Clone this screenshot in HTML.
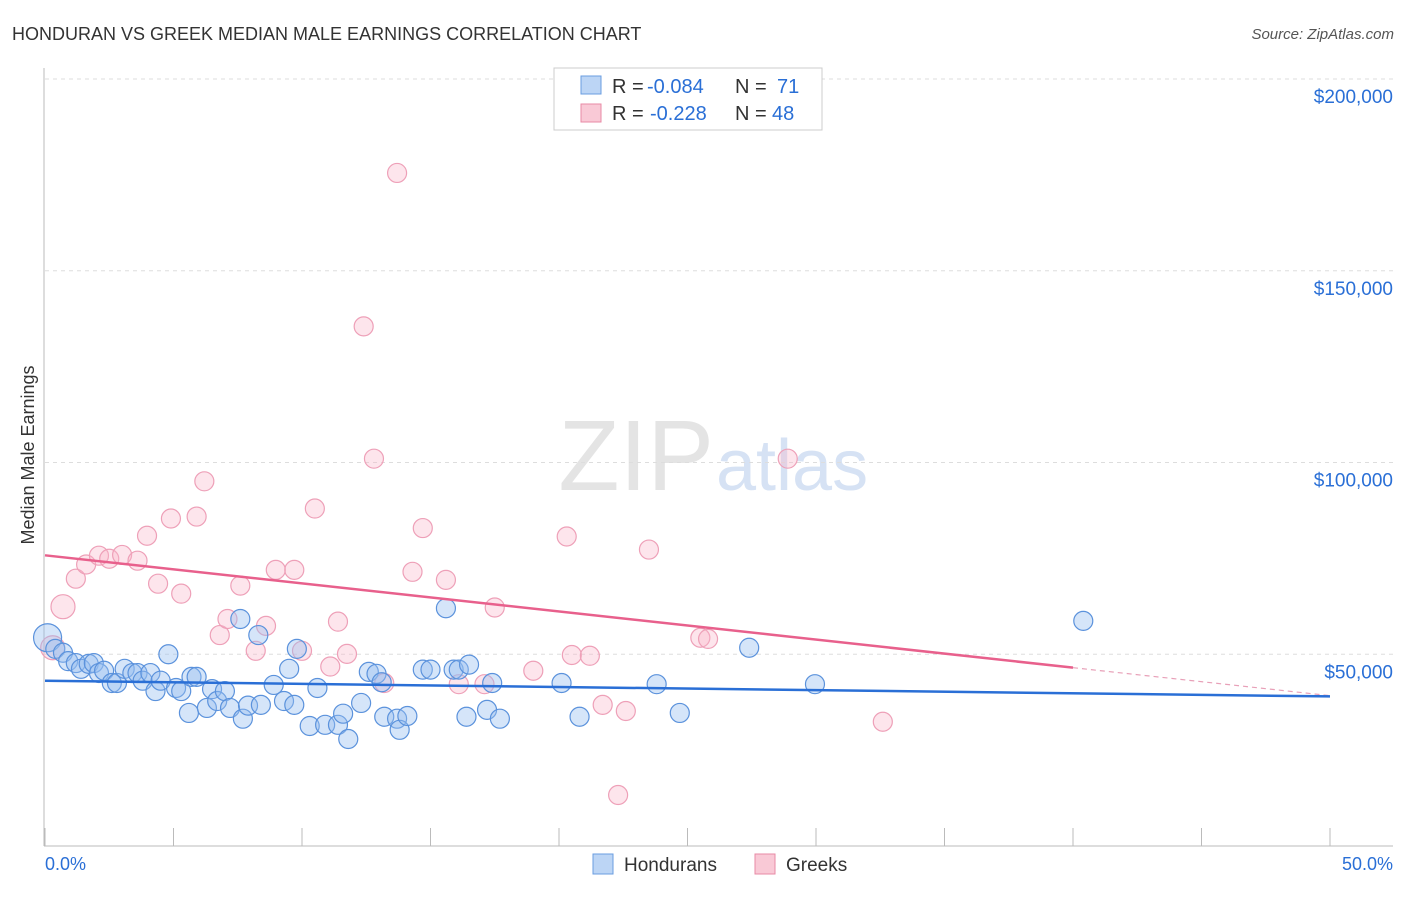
<!DOCTYPE html>
<html><head><meta charset="utf-8"><style>
body{margin:0;background:#fff;font-family:"Liberation Sans",sans-serif;}
svg text{font-family:"Liberation Sans",sans-serif;}
</style></head><body>
<svg id="c" width="1406" height="892">
<text x="12" y="40" font-size="18" fill="#333">HONDURAN VS GREEK MEDIAN MALE EARNINGS CORRELATION CHART</text>
<text x="1394" y="39" font-size="15" fill="#555" font-style="italic" text-anchor="end">Source: ZipAtlas.com</text>
<text x="714" y="490" font-size="100" fill="#e4e4e4" text-anchor="end" font-family="Liberation Serif">ZIP</text>
<text x="716" y="490" font-size="72" fill="#d6e2f4">atlas</text>
<text transform="translate(34,455) rotate(-90)" font-size="18" fill="#333" text-anchor="middle">Median Male Earnings</text>
<g id="grid"></g><g id="pts"></g><g id="lines"></g>
<g>
<rect x="554" y="68" width="268" height="62" fill="#fff" stroke="#ccc"/>
<rect x="581" y="76" width="20" height="18" fill="#bcd5f5" stroke="#6a9de0"/>
<rect x="581" y="104" width="20" height="18" fill="#f9c9d6" stroke="#e88aa5"/>
<text x="612" y="93" font-size="20" fill="#333">R =</text>
<text x="647" y="93" font-size="20" fill="#2a6fd6">-0.084</text>
<text x="735" y="93" font-size="20" fill="#333">N =</text>
<text x="777" y="93" font-size="20" fill="#2a6fd6">71</text>
<text x="612" y="120" font-size="20" fill="#333">R =</text>
<text x="650" y="120" font-size="20" fill="#2a6fd6">-0.228</text>
<text x="735" y="120" font-size="20" fill="#333">N =</text>
<text x="772" y="120" font-size="20" fill="#2a6fd6">48</text>
</g>
<g>
<rect x="593" y="854" width="20" height="20" fill="#bcd5f5" stroke="#6a9de0"/>
<text x="624" y="871" font-size="19" fill="#333">Hondurans</text>
<rect x="755" y="854" width="20" height="20" fill="#f9c9d6" stroke="#e88aa5"/>
<text x="786" y="871" font-size="19" fill="#333">Greeks</text>
</g>
<text x="45" y="870" font-size="18" fill="#2a6fd6">0.0%</text>
<text x="1393" y="870" font-size="18" fill="#2a6fd6" text-anchor="end">50.0%</text>
</svg>
<script>
const yTicks=[50000,100000,150000,200000];
const yTickLabels=["$50,000","$100,000","$150,000","$200,000"];
const hondX=[0.1,0.4,0.7,0.9,1.2,1.4,1.7,1.9,2.1,2.3,2.6,2.8,3.1,3.4,3.6,3.8,4.1,4.3,4.5,4.8,5.1,5.3,5.6,5.7,5.9,6.3,6.5,6.7,7.0,7.2,7.6,7.7,7.9,8.3,8.4,8.9,9.3,9.5,9.7,9.8,10.3,10.6,10.9,11.4,11.6,11.8,12.3,12.6,12.9,13.2,13.1,13.7,13.8,14.1,14.7,15.0,15.6,15.9,16.1,16.4,16.5,17.2,17.4,17.7,20.1,20.8,23.8,24.7,27.4,29.96,40.4];
const hondY=[54300,51400,50400,48200,47700,46200,47500,47700,45100,45700,42500,42500,46200,45100,45100,43100,45100,40400,43100,50000,41200,40400,34700,44100,44100,36000,40900,37800,40400,36000,59200,33200,36600,55000,36800,42000,37800,46200,36800,51400,31300,41200,31600,31600,34500,27900,37300,45400,44900,33700,42700,33200,30300,33900,46000,46000,62000,46000,46000,33700,47300,35500,42500,33200,42500,33700,42200,34700,51700,42200,58700];
const grkX=[0.3,0.7,1.2,1.6,2.1,2.5,3.0,3.6,3.97,4.4,4.9,5.3,5.9,6.2,6.8,7.1,7.6,8.2,8.6,8.98,9.7,10.0,10.5,11.1,11.4,11.75,12.4,12.8,13.2,13.7,14.3,14.7,15.6,16.1,17.1,17.5,19.0,20.3,20.5,21.2,21.7,22.3,22.6,23.5,25.5,25.8,28.9,32.6];
const grkY=[51700,62400,69700,73400,75700,74900,75900,74400,80900,68400,85400,65800,85900,95100,55000,59200,67900,50900,57400,72000,72000,50900,88000,46800,58500,50100,135500,101000,42500,175500,71500,82900,69400,42200,42200,62200,45700,80700,49800,49600,36800,13300,35200,77300,54300,54000,101000,32400];
const X0=45,X1=1330,PY0=846,PY200=79;
const xs=p=>X0+(X1-X0)*p/50;
const ys=v=>PY0-(PY0-PY200)*v/200000;
const NS="http://www.w3.org/2000/svg";
function mk(t,a,parent){const e=document.createElementNS(NS,t);for(const k in a)e.setAttribute(k,a[k]);document.getElementById(parent).appendChild(e);return e;}
yTicks.forEach((v,i)=>{
 const l=mk('line',{x1:45,x2:1393,y1:ys(v),y2:ys(v),stroke:'#ddd','stroke-dasharray':'4,4'},'grid');
 
 
 const t=mk('text',{x:1393,y:ys(v)+24,'font-size':19,fill:'#2a6fd6','text-anchor':'end'},'grid');
 t.textContent=yTickLabels[i];
 
 
});
const ax=mk('line',{x1:44,x2:44,y1:68,y2:846,stroke:'#bbb'},'grid');


const bx=mk('line',{x1:44,x2:1393,y1:846,y2:846,stroke:'#bbb'},'grid');


for(let i=0;i<=10;i++){const tk=mk('line',{x1:xs(i*5),x2:xs(i*5),y1:828,y2:846,stroke:'#bbb'},'grid');
 
 }
grkX.forEach((x,i)=>{const r=i<2?12:9.5;
 const c=mk('circle',{cx:xs(x),cy:ys(grkY[i]),r:r,fill:'rgba(248,180,200,0.35)',stroke:'#eea0b8','stroke-width':1.2},'pts');
 
 });
hondX.forEach((x,i)=>{const r=i==0?14:9.5;
 const c=mk('circle',{cx:xs(x),cy:ys(hondY[i]),r:r,fill:'rgba(150,190,240,0.4)',stroke:'#5b92dc','stroke-width':1.2},'pts');
 
 });
const l1=mk('line',{x1:xs(0),y1:ys(75800),x2:xs(40),y2:ys(46500),stroke:'#e8608c','stroke-width':2.5},'lines');


const l2=mk('line',{x1:xs(40),y1:ys(46500),x2:xs(50),y2:ys(39200),stroke:'#e8a0b8','stroke-width':1.2,'stroke-dasharray':'5,4'},'lines');


const l3=mk('line',{x1:xs(0),y1:ys(43100),x2:xs(50),y2:ys(39000),stroke:'#2a6fd6','stroke-width':2.5},'lines');


</script>
</body></html>
